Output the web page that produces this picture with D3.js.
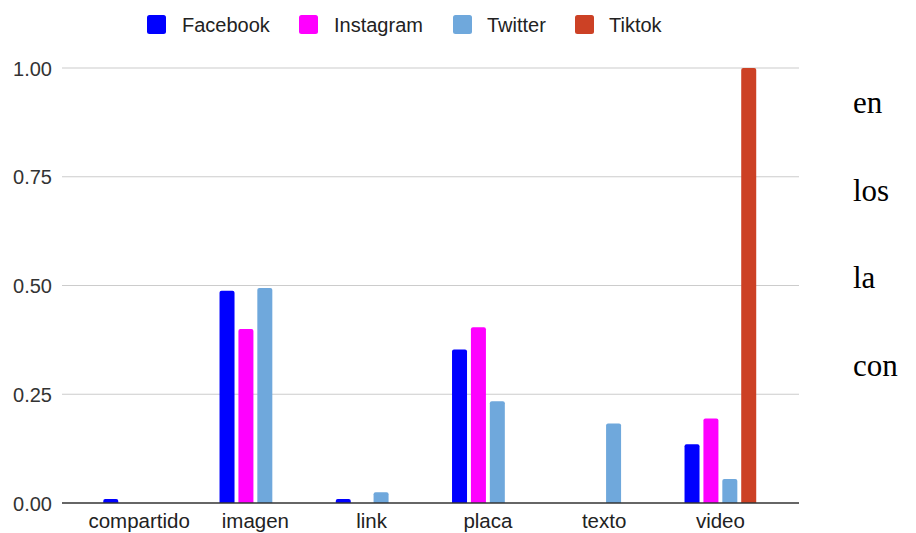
<!DOCTYPE html>
<html>
<head>
<meta charset="utf-8">
<script src="https://cdn.jsdelivr.net/npm/d3@7"></script>
<style>
  html, body { margin: 0; padding: 0; background: #fff; }
  svg { display: block; }
</style>
</head>
<body>
<svg id="chart" width="916" height="533"></svg>
<script>
const categories = ["compartido", "imagen", "link", "placa", "texto", "video"];
const seriesNames = ["Facebook", "Instagram", "Twitter", "Tiktok"];
const facebook  = [0.009, 0.488, 0.009, 0.353, 0,     0.135];
const instagram = [0,     0.400, 0,     0.404, 0,     0.194];
const twitter   = [0,     0.494, 0.025, 0.234, 0.183, 0.055];
const tiktok    = [0,     0,     0,     0,     0,     1.0];
const yTicks = [0, 0.25, 0.5, 0.75, 1.0];
const sideWords = ["en", "los", "la", "con"];
const colors = ["#0000ff", "#ff00ff", "#6fa8dc", "#cc4125"];

const seriesValues = [facebook, instagram, twitter, tiktok];
const svg = d3.select("#chart");
const font = "'Liberation Sans', Arial, Helvetica, sans-serif";

const y = d3.scaleLinear().domain([0, 1]).range([503, 68]);
const x = d3.scaleBand().domain(categories).range([81, 778.5]).padding(0);
const groupW = 71.7;
const xi = d3.scaleBand().domain(seriesNames).range([0, groupW]).paddingInner(0.206).paddingOuter(0);

// gridlines
const gl = svg.append("g");
gl.selectAll("line").data(yTicks.filter(d => d > 0)).join("line")
  .attr("x1", 62).attr("x2", 799)
  .attr("y1", d => y(d)).attr("y2", d => y(d))
  .attr("stroke", "#cccccc").attr("stroke-width", 1.2);

// y axis labels
const yAxis = d3.axisLeft(y).tickValues(yTicks).tickFormat(d3.format(".2f")).tickSize(0).tickPadding(10);
const ya = svg.append("g").attr("transform", "translate(62,0)").call(yAxis);
ya.select(".domain").remove();
ya.selectAll("text").attr("font-family", font).attr("font-size", 20).attr("fill", "#333").attr("dy", "0.36em");

// bars
function roundTopRect(x0, y0, w, h, r) {
  if (h <= 0) return "";
  r = Math.min(r, h, w / 2);
  return `M${x0},${y0 + h}V${y0 + r}Q${x0},${y0} ${x0 + r},${y0}H${x0 + w - r}Q${x0 + w},${y0} ${x0 + w},${y0 + r}V${y0 + h}Z`;
}
const barData = [];
categories.forEach((c, ci) => {
  seriesNames.forEach((s, si) => {
    barData.push({ c, s, si, v: seriesValues[si][ci] });
  });
});
svg.append("g").selectAll("path").data(barData.filter(d => d.v > 0)).join("path")
  .attr("d", d => {
    const x0 = x(d.c) + (x.bandwidth() - groupW) / 2 + xi(d.s);
    return roundTopRect(x0, y(d.v), xi.bandwidth(), y(0) - y(d.v), 2);
  })
  .attr("fill", d => colors[d.si]);

// baseline
svg.append("line").attr("x1", 62).attr("x2", 799).attr("y1", y(0)).attr("y2", y(0))
  .attr("stroke", "#333").attr("stroke-width", 1.3);

// x axis labels
const xAxis = d3.axisBottom(x).tickSize(0).tickPadding(0);
const xa = svg.append("g").attr("transform", `translate(0,${y(0)})`).call(xAxis);
xa.select(".domain").remove();
xa.selectAll("text").attr("font-family", font).attr("font-size", 20.5).attr("fill", "#222")
  .attr("y", 24.5).attr("dy", 0);

// legend
const legX = [147, 299, 453, 575];
const legTX = [182, 334, 487, 609];
const leg = svg.append("g");
leg.selectAll("rect").data(seriesNames).join("rect")
  .attr("x", (d, i) => legX[i]).attr("y", 15).attr("width", 19).attr("height", 19)
  .attr("rx", 2.5).attr("fill", (d, i) => colors[i]);
leg.selectAll("text").data(seriesNames).join("text")
  .attr("x", (d, i) => legTX[i]).attr("y", 31.5)
  .attr("font-family", font).attr("font-size", 20).attr("fill", "#222")
  .text(d => d);

// side words
const sideY = d3.scalePoint().domain(sideWords).range([113, 376]);
svg.append("g").selectAll("text").data(sideWords).join("text")
  .attr("x", 853).attr("y", d => sideY(d))
  .attr("font-family", "'Liberation Serif', 'Times New Roman', serif")
  .attr("font-size", 31).attr("fill", "#000")
  .text(d => d);
</script>
</body>
</html>
